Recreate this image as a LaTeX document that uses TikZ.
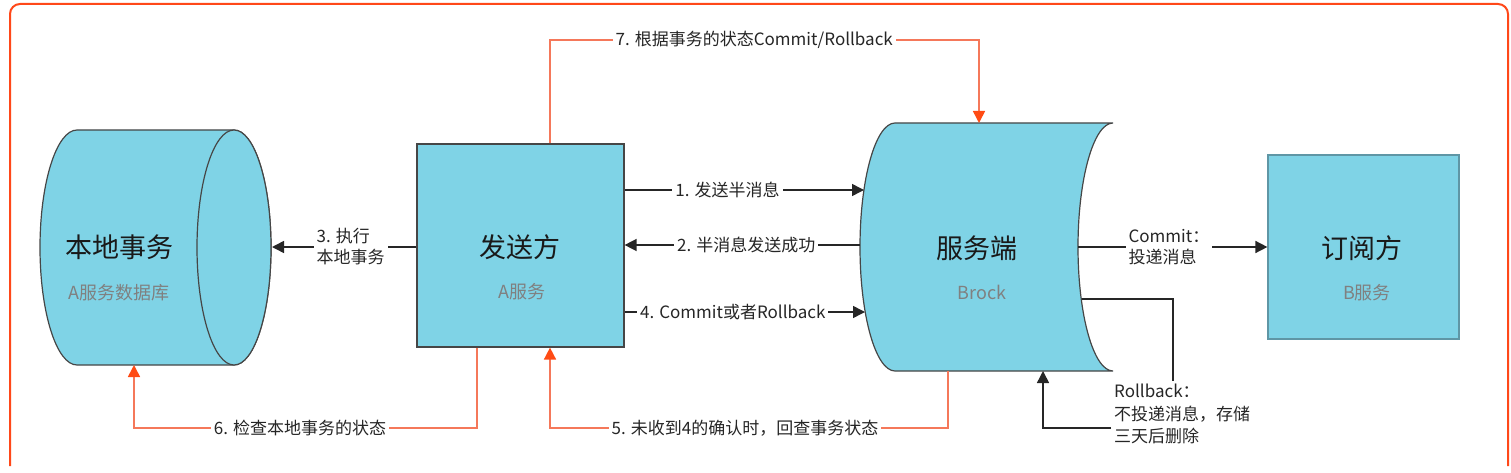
\documentclass[tikz,border=0pt]{standalone}
\usepackage{fontspec}
\setmainfont{Noto Sans CJK SC}
\usetikzlibrary{arrows.meta, positioning, calc}

\definecolor{cyanfill}{RGB}{127,211,230}
\definecolor{edgegray}{RGB}{70,70,70}
\definecolor{rcvedge}{RGB}{95,150,165}
\definecolor{framered}{RGB}{255,72,25}
\definecolor{orline}{RGB}{245,120,90}
\definecolor{orhead}{RGB}{255,75,20}
\definecolor{subgray}{RGB}{128,128,128}

\tikzset{
  box/.style={draw=edgegray, fill=cyanfill, line width=1.2pt, inner sep=0pt},
  shapeline/.style={draw=edgegray, fill=cyanfill, line width=1.2pt},
  title/.style={font=\fontsize{27}{31}\selectfont, text=black!90},
  subtxt/.style={font=\fontsize{18}{22}\selectfont, text=subgray},
  lbl/.style={font=\fontsize{17}{21}\selectfont, fill=white, inner sep=3pt, text=black!85},
  plain/.style={draw=black!85, line width=1.5pt},
  bl/.style={plain, -{Triangle[length=12pt,width=12pt]}},
  ol/.style={draw=orline, line width=1.6pt, -{Triangle[length=12pt,width=12pt,color=orhead]}}
}

\begin{document}
\begin{tikzpicture}[x=1pt, y=-1pt]
\useasboundingbox (0,0) rectangle (1511,473);

% outer frame
\draw[framered, line width=2pt, rounded corners=10pt] (10,466) -- (10,4) -- (1508,4) -- (1508,466);

% local transaction (cylinder)
\draw[shapeline] (77,130) -- (234,130) arc[start angle=270, end angle=450, x radius=37, y radius=117.5]
  -- (77,365) arc[start angle=90, end angle=270, x radius=37, y radius=117.5] -- cycle;
\draw[shapeline] (234,247.5) ellipse[x radius=37, y radius=117.5];
\node[title] (dbt) at (119,247) {本地事务};
\node[subtxt] (dbs) at (119,293) {A服务数据库};
\coordinate (dbR) at (272,247);
\coordinate (dbBot) at (134,365);

% sender
\node[box, minimum width=207pt, minimum height=203pt] (snd) at (520.5,245.5) {};
\node[title] (sndt) at (520,247) {发送方};
\node[subtxt] (snds) at (522,292) {A服务};

% broker
\draw[shapeline] (895,123) -- (1113,123) arc[start angle=270, end angle=90, x radius=35, y radius=124]
  -- (895,371) arc[start angle=90, end angle=270, x radius=35, y radius=124] -- cycle;
\node[title] (srvt) at (977,248) {服务端};
\node[subtxt] (srvs) at (982,292) {Brock};
\coordinate (srvIn1) at (864,190);
\coordinate (srvIn2) at (860,245);
\coordinate (srvIn4) at (865,312);
\coordinate (srvTop) at (979,123);
\coordinate (srvOut) at (1078,247);
\coordinate (srvRb) at (1082,299);
\coordinate (srvBot) at (1043,371);
\coordinate (srvBot5) at (948,371);

% subscriber
\node[box, draw=rcvedge, minimum width=191pt, minimum height=184pt] (rcv) at (1363.5,247) {};
\node[title] (rcvt) at (1362,248) {订阅方};
\node[subtxt] (rcvs) at (1367,293) {B服务};

% black connectors
\draw[bl] (snd.east |- srvIn1) -- node[lbl, pos=0.43] (l1) {1. 发送半消息} (srvIn1);
\draw[bl] (srvIn2) -- node[lbl, pos=0.483] (l2) {2. 半消息发送成功} (snd.east |- srvIn2);
\draw[bl] (snd.west |- dbR) -- node[lbl, align=left, pos=0.455] (l3) {3. 执行\\本地事务} (dbR);
\draw[bl] (snd.east |- srvIn4) -- node[lbl, pos=0.45] (l4) {4. Commit或者Rollback} (srvIn4);
\draw[bl] (srvOut) -- node[lbl, align=left, pos=0.48] (lc) {Commit：\\投递消息} (rcv.west |- srvOut);

% rollback branch
\node[lbl, font=\fontsize{17}{22.5}\selectfont, fill=none, align=left, anchor=north west] (rbnote) at (1111,381) {Rollback：\\不投递消息，存储\\三天后删除};
\coordinate (rbturn) at (1173,299);
\coordinate (rbback) at (1043,428);
\draw[plain] (srvRb) -- (rbturn) -- (rbturn |- rbnote.north);
\draw[bl] (rbnote.west |- rbback) -- (rbback) -- (srvBot);

% orange connectors
\coordinate (up7) at (550,40);
\coordinate (dn7) at (979,40);
\draw[ol] (snd.north -| up7) -- (up7) -- node[lbl, pos=0.476] (l7) {7. 根据事务的状态Commit/Rollback} (dn7) -- (srvTop);
\coordinate (c6a) at (477,428);
\coordinate (c6b) at (134,428);
\draw[ol] (snd.south -| c6a) -- (c6a) -- node[lbl, pos=0.516] (l6) {6. 检查本地事务的状态} (c6b) -- (dbBot);
\coordinate (c5a) at (948,428);
\coordinate (c5b) at (550,428);
\draw[ol] (srvBot5) -- (c5a) -- node[lbl, pos=0.51] (l5) {5. 未收到4的确认时，回查事务状态} (c5b) -- (snd.south -| c5b);
\end{tikzpicture}
\end{document}
